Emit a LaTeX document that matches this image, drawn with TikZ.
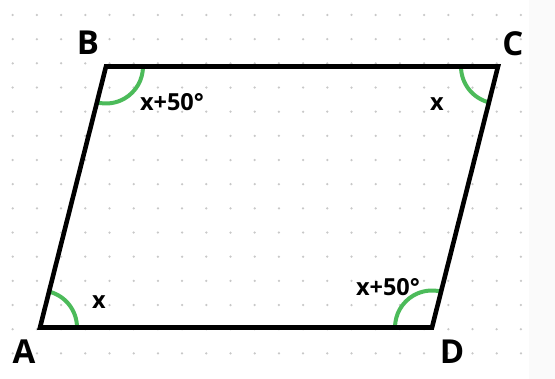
\documentclass[tikz,border=0pt]{standalone}
\usepackage{fontspec}
\setmainfont{Open Sans}
\definecolor{arcgreen}{HTML}{4CBB5A}
\definecolor{dotgray}{HTML}{C8C8C8}
\definecolor{outergray}{HTML}{FAFAFA}
\begin{document}
\begin{tikzpicture}[x=1pt,y=-1pt,
  edge/.style={line width=4.6pt,line join=miter,black},
  anglearc/.style={line width=4pt,arcgreen},
  vlabel/.style={font=\fontsize{33}{33}\selectfont\bfseries,inner sep=0pt},
  alabel/.style={font=\fontsize{23.5}{23.5}\selectfont\bfseries,inner sep=0pt}]
\useasboundingbox (0,0) rectangle (555,379);
\fill[outergray] (0,0) rectangle (555,379);
\fill[white] (0,0) rectangle (529,379);
% dot grid
\foreach \i in {0,...,21}{
  \foreach \j in {0,...,14}{
    \fill[dotgray] ({12.7+24.2*\i},{15+24.17*\j}) circle (1.25);
  }
}
\coordinate (A) at (40,327.5);
\coordinate (B) at (106,66.5);
\coordinate (C) at (498,66.5);
\coordinate (D) at (432,327.5);
% angle arcs
\draw[anglearc] ([shift={(37,0)}]A) arc[start angle=0,end angle=-75.8,radius=37];
\draw[anglearc] ([shift={(37,0)}]B) arc[start angle=0,end angle=104.2,radius=37];
\draw[anglearc] ([shift={(-37,0)}]C) arc[start angle=180,end angle=104.2,radius=37];
\draw[anglearc] ([shift={(-37,0)}]D) arc[start angle=180,end angle=284.2,radius=37];
\draw[edge] (A) -- (B) -- (C) -- (D) -- cycle;
% labels
\node[vlabel] (lA) at (24,352) {A};
\node[vlabel] (lB) at (88,43) {B};
\node[vlabel] (lC) at (513,44) {C};
\node[vlabel] (lD) at (452,352) {D};
\node[alabel] (aB) at (172,102) {x+50°};
\node[alabel] (aC) at (437,104) {x};
\node[alabel] (aA) at (99,302) {x};
\node[alabel] (aD) at (388,287) {x+50°};
\end{tikzpicture}
\end{document}
